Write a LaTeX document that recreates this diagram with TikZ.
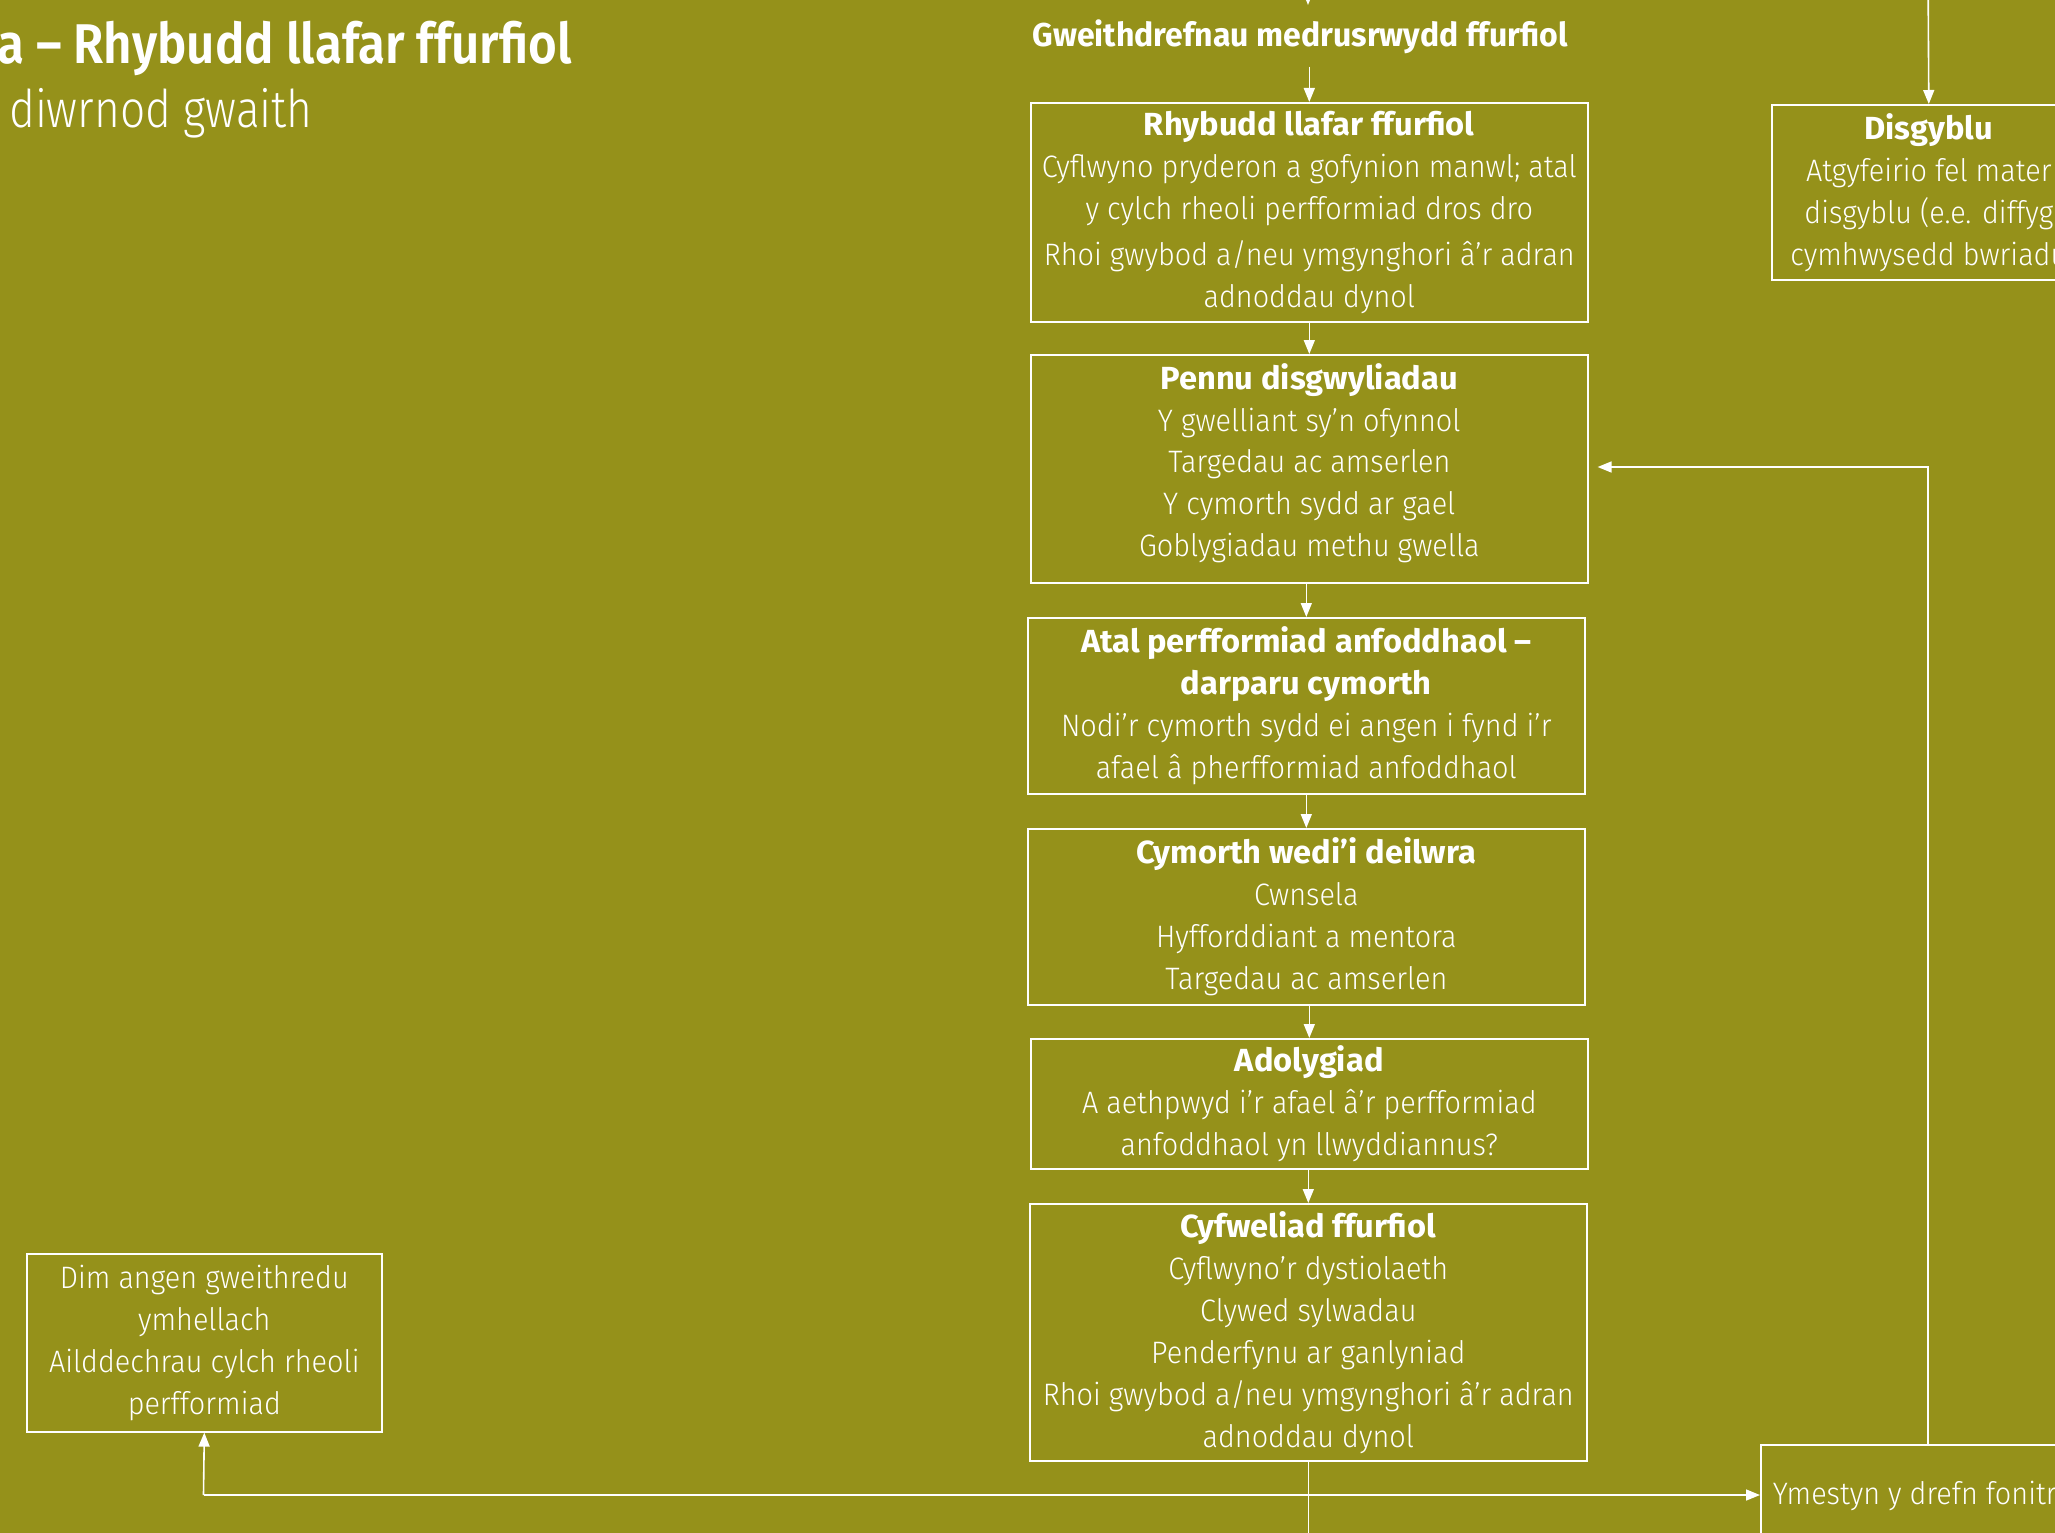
\documentclass[tikz,border=0pt]{standalone}
\usepackage{fontspec}
\setmainfont{Fira Sans}[UprightFont=* Light, BoldFont=* Bold, UprightFeatures={FakeStretch=0.93}, BoldFeatures={FakeStretch=1.02}]
\newfontfamily\titlefont{Fira Sans}[UprightFont=* SemiBold, FakeStretch=0.88]
\newfontfamily\subfont{Fira Sans}[UprightFont=* Light, FakeStretch=0.85]
\newfontfamily\gwfont{Fira Sans}[UprightFont=* Bold, FakeStretch=0.97]
\usetikzlibrary{arrows.meta}
\definecolor{olivebg}{RGB}{149,145,26}
\newcommand\bxfont{\fontsize{31}{42}\selectfont}
\newcommand\hd[1]{{\fontsize{32}{42}\selectfont\bfseries #1}}
\begin{document}
\begin{tikzpicture}[x=1pt,y=-1pt,
  box/.style={draw=white, line width=1.6pt, text=white, align=center, anchor=north west, inner sep=0pt, font=\bxfont},
  ln/.style={draw=white, line width=1.6pt},
  arr/.style={ln, -{Triangle[length=14pt,width=11pt]}}]
\useasboundingbox (0,0) rectangle (2055,1533);
\clip (0,0) rectangle (2055,1533);
\fill[olivebg] (0,0) rectangle (2055,1533);

% titles
\node[text=white, font=\fontsize{56}{60}\selectfont\titlefont, anchor=base east, inner sep=0pt] (t1) at (572,64) {a – Rhybudd llafar ffurfiol};
\node[text=white, font=\fontsize{52}{60}\selectfont\subfont, anchor=base west, inner sep=0pt] (t2) at (9,128) {diwrnod gwaith};

\node[text=white, font=\fontsize{33}{40}\selectfont\gwfont, anchor=base, inner xsep=0pt, inner ysep=12pt] (gw) at (1300,47) {Gweithdrefnau medrusrwydd ffurfiol};

% main column
\node[box, minimum width=557, minimum height=219] (rhy) at (1030,102)
 {\hd{Rhybudd llafar ffurfiol}\\Cyflwyno pryderon a gofynion manwl; atal\\y cylch rheoli perfformiad dros dro\\[4pt]Rhoi gwybod a/neu ymgynghori â’r adran\\adnoddau dynol};
\node[box, minimum width=557, minimum height=228, font=\fontsize{31}{41.6}\selectfont] (pen) at (1030,354)
 {\hd{Pennu disgwyliadau}\\Y gwelliant sy’n ofynnol\\Targedau ac amserlen\\Y cymorth sydd ar gael\\Goblygiadau methu gwella\\[-24pt]\mbox{}};
\node[box, minimum width=557, minimum height=176] (atal) at (1027,617)
 {\hd{Atal perfformiad anfoddhaol –}\\\hd{darparu cymorth}\\Nodi’r cymorth sydd ei angen i fynd i’r\\afael â pherfformiad anfoddhaol};
\node[box, minimum width=557, minimum height=176] (cym) at (1027,828)
 {\hd{Cymorth wedi’i deilwra}\\Cwnsela\\Hyfforddiant a mentora\\Targedau ac amserlen};
\node[box, minimum width=557, minimum height=130] (ado) at (1030,1038)
 {\hd{Adolygiad}\\A aethpwyd i’r afael â’r perfformiad\\anfoddhaol yn llwyddiannus?};
\node[box, minimum width=557, minimum height=257] (cyf) at (1029,1203)
 {\hd{Cyfweliad ffurfiol}\\Cyflwyno’r dystiolaeth\\Clywed sylwadau\\Penderfynu ar ganlyniad\\Rhoi gwybod a/neu ymgynghori â’r adran\\adnoddau dynol};

% side boxes
\node[box, minimum width=355, minimum height=178] (dim) at (26,1253)
 {Dim angen gweithredu\\ymhellach\\Ailddechrau cylch rheoli\\perfformiad};
\node[box, minimum width=314, minimum height=175] (disg) at (1771,104)
 {\hd{Disgyblu}\\Atgyfeirio fel mater\\disgyblu (e.e. diffyg\\cymhwysedd bwriadu};
\node[box, minimum width=336, minimum height=102, inner xsep=12pt] (ymes) at (1760,1444)
 {\makebox[312pt][l]{Ymestyn y drefn fonitro}};

% coordinates
\coordinate (topin) at (1308,-30);
\coordinate (topend) at (1308,5);
\coordinate (dtop) at (1928,-30);
\coordinate (rv) at (1928,467);
\coordinate (j) at (203.5,1495);
\coordinate (cyfout) at (1304,1560);

% connectors
\draw[arr] (topin) -- (topend);
\draw[arr] (gw.south -| rhy.north) -- (rhy.north);
\draw[arr] (rhy.south) -- (pen.north);
\draw[arr] (atal.north |- pen.south) -- (atal.north);
\draw[arr] (atal.south) -- (cym.north);
\draw[arr] (ado.north |- cym.south) -- (ado.north);
\draw[arr] (cyf.north |- ado.south) -- (cyf.north);
\draw[ln] (cyf.south) -- (cyf.south |- cyfout);
\draw[arr] (j) -- (dim.south);
\draw[arr] (j) -- (j -| ymes.west);
\draw[arr] (dtop) -- (disg.north);
\draw[arr, shorten >=9pt] (ymes.north west -| rv) -- (rv) -- (rv -| pen.east);
\end{tikzpicture}
\end{document}
